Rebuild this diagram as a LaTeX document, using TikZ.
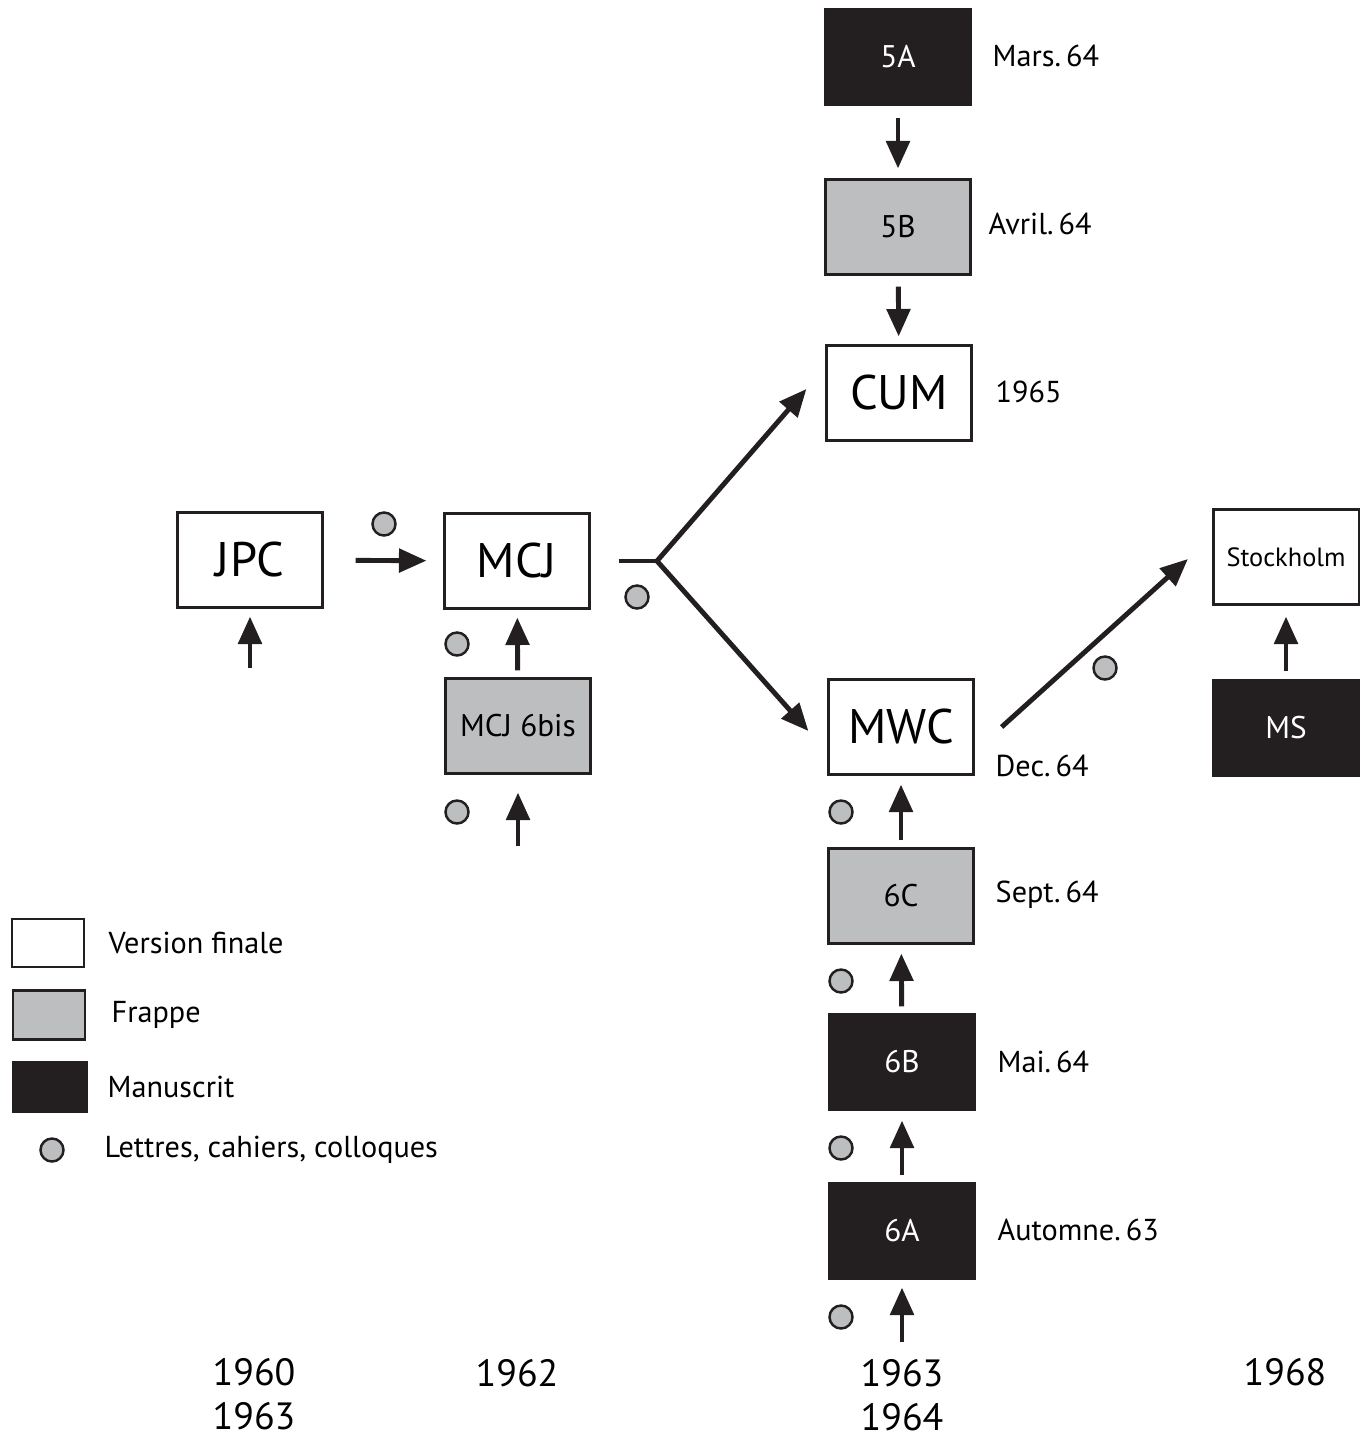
\documentclass[tikz,border=0pt]{standalone}
\usepackage{fontspec}
\setmainfont{PT Sans}
\usetikzlibrary{arrows.meta}
\definecolor{frappe}{RGB}{188,190,192}
\definecolor{manu}{RGB}{35,31,32}

\begin{document}
\begin{tikzpicture}[x=0.01cm,y=-0.01cm,
  vers/.style={draw=manu,line width=0.6pt,minimum width=1.45cm,minimum height=0.95cm,inner sep=0pt,font=\fontsize{8.9}{10}\selectfont},
  fin/.style={vers,fill=white},
  big/.style={font=\fontsize{13.8}{15}\selectfont},
  frap/.style={vers,fill=frappe},
  manus/.style={vers,fill=manu,text=white},
  lettre/.style={circle,draw=manu,fill=frappe,line width=0.7pt,minimum size=0.23cm,inner sep=0pt},
  fl/.style={draw=manu,line width=1.4pt,-{Triangle[width=6.6pt,length=7.8pt]}},
  trait/.style={draw=manu,line width=1.4pt},
  date/.style={anchor=west,inner sep=0pt,font=\fontsize{8.6}{10}\selectfont},
  annee/.style={align=center,inner sep=0pt,font=\fontsize{10.8}{12.5}\selectfont}]
\useasboundingbox (0,0) rectangle (1360,1439);

% versions
\node[manus] (v5A) at (898,57) {5A};
\node[frap] (v5B) at (898,227) {5B};
\node[fin,big] (CUM) at (899,393) {CUM};
\node[fin,big] (JPC) at (250,560) {JPC};
\node[fin,big] (MCJ) at (517,561) {MCJ};
\node[frap] (MCJb) at (518,726) {MCJ 6bis};
\node[fin,big] (MWC) at (901,727) {MWC};
\node[fin,font=\fontsize{7.5}{9}\selectfont] (Stock) at (1286,557) {Stockholm};
\node[manus] (MS) at (1286,728) {MS};
\node[frap] (v6C) at (901,896) {6C};
\node[manus] (v6B) at (902,1062) {6B};
\node[manus] (v6A) at (902,1231) {6A};

% dates
\node[date] (d5A) at (992,56) {Mars.\,64};
\node[date] (d5B) at (988,224) {Avril.\,64};
\node[date] (dCUM) at (995,392) {1965};
\node[date] (dMWC) at (995,766) {Dec.\,64};
\node[date] (d6C) at (995,895) {Sept.\,64};
\node[date] (d6B) at (997,1062) {Mai.\,64};
\node[date] (d6A) at (997,1230) {Automne.\,63};

% lettres, cahiers, colloques
\node[lettre] (l1) at (384,524) {};
\node[lettre] (l2) at (457,644) {};
\node[lettre] (l3) at (457,812) {};
\node[lettre] (l4) at (637,597) {};
\node[lettre] (l5) at (1105,668) {};
\node[lettre] (l6) at (841,812) {};
\node[lettre] (l7) at (841,981) {};
\node[lettre] (l8) at (841,1148) {};
\node[lettre] (l9) at (841,1317) {};

%-------------------------------------
\coordinate (eJPC) at (250,668);
\coordinate (eMCJb) at (518,846);
\coordinate (e6A) at (902,1342);
\coordinate (split) at (657,561);

\draw[fl,shorten <=0.12cm,shorten >=0.10cm] (v5A) -- (v5B);
\draw[fl,shorten <=0.11cm,shorten >=0.08cm] (v5B) -- (CUM);
\draw[fl,shorten >=0.08cm] (eJPC) -- (JPC);
\draw[fl,shorten <=0.32cm,shorten >=0.17cm] (JPC) -- (MCJ);
\draw[fl,shorten <=0.07cm,shorten >=0.08cm] (MCJb) -- (MCJ);
\draw[fl,shorten >=0.18cm] (eMCJb) -- (MCJb);
\draw[trait,shorten <=0.28cm] (MCJ.east) -- (split);
\draw[fl] (split) -- ([xshift=-0.19cm,yshift=0.04cm]CUM.west);
\draw[fl] (split) -- ([xshift=-0.19cm,yshift=-0.04cm]MWC.west);
\draw[fl] ([xshift=0.27cm]MWC.east) -- ([xshift=-0.245cm,yshift=-0.02cm]Stock.west);
\draw[fl,shorten <=0.08cm,shorten >=0.11cm] (MS) -- (Stock);
\draw[fl,shorten <=0.07cm,shorten >=0.09cm] (v6C) -- (MWC);
\draw[fl,shorten <=0.07cm,shorten >=0.09cm] (v6B) -- (v6C);
\draw[fl,shorten <=0.07cm,shorten >=0.10cm] (v6A) -- (v6B);
\draw[fl,shorten >=0.08cm] (e6A) -- (v6A);

%-------------------------------------
% legende
\node[fin,minimum width=0.72cm,minimum height=0.48cm] (kfin) at (48,943) {};
\node[frap,minimum width=0.72cm,minimum height=0.49cm] (kfrap) at (49,1015) {};
\node[manus,minimum width=0.73cm,minimum height=0.49cm] (kman) at (50,1087) {};
\node[lettre] (klet) at (52,1150) {};
\node[date] (tfin) at (108,943) {Version finale};
\node[date] (tfrap) at (111,1015) {Frappe};
\node[date] (tman) at (107,1087) {Manuscrit};
\node[date] (tlet) at (104,1150) {Lettres, cahiers, colloques};

% annees
\node[annee] (a1) at (254,1394) {1960\\1963};
\node[annee] (a2) at (517,1373) {1962};
\node[annee] (a3) at (902,1395) {1963\\1964};
\node[annee] (a4) at (1285,1372) {1968};
\end{tikzpicture}
\end{document}
